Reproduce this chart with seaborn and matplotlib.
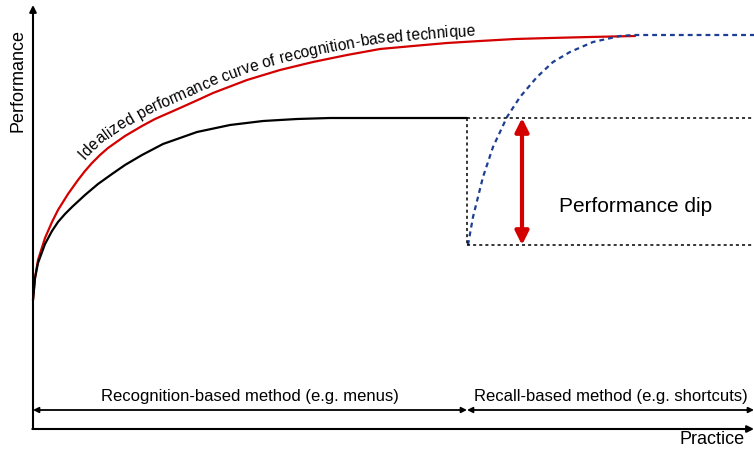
import numpy as np
import matplotlib
matplotlib.use("Agg")
import matplotlib.pyplot as plt
import seaborn as sns

# curves, in pixel coordinates (x = practice, y = distance from top)
black_x = [33, 35, 38, 45, 52, 58, 65, 72, 85, 98, 112, 125, 142, 163, 197, 230, 263, 297, 330, 467]
black_y = [300, 278, 263, 244, 231, 222, 214, 207, 195, 184, 174, 165, 155, 144, 132, 125, 121, 119, 118, 118]

red_x = [33, 35, 38, 45, 52, 58, 68, 78, 85, 92, 100, 108, 125, 142, 155, 180, 200, 213, 247, 280, 313,
         347, 380, 413, 447, 480, 515, 550, 590, 635]
red_y = [300, 278, 260, 238, 222, 210, 194, 180, 171, 163, 155, 148, 136, 126, 119, 108, 99, 93, 80, 70, 62,
         55, 49, 46, 43, 41, 39, 38, 37, 36]

blue_x = [468, 473, 483, 493, 507, 520, 537, 553, 570, 593, 620, 633, 754]
blue_y = [245, 217, 177, 147, 117, 97, 77, 62, 52, 42, 36, 35, 35]

switch_x = 467
level_old = 118
level_dip = 245
dip_arrow_x = 522

curve_label = "Idealized performance curve of recognition-based technique"
recog_label = "Recognition-based method (e.g. menus)"
recall_label = "Recall-based method (e.g. shortcuts)"

sns.set_style("white")
plt.rcParams['font.family'] = ['Liberation Sans', 'DejaVu Sans']
plt.rcParams['text.color'] = 'black'

W, H = 754, 451
fig = plt.figure(figsize=(W / 100, H / 100), dpi=100)
ax = fig.add_axes([0, 0, 1, 1])
ax.set_xlim(0, W)
ax.set_ylim(H, 0)
ax.axis("off")

RED = "#d40000"
BLUE = "#1c3f94"

sns.lineplot(x=red_x, y=red_y, ax=ax, color=RED, lw=1.6, sort=False, estimator=None)
sns.lineplot(x=black_x, y=black_y, ax=ax, color="black", lw=1.6, sort=False, estimator=None)
sns.lineplot(x=blue_x, y=blue_y, ax=ax, color=BLUE, lw=1.6, sort=False, estimator=None,
             linestyle=(0, (2.2, 1.8)))

# dotted guides
dot = dict(color="black", lw=1.1, linestyle=(0, (2, 2)))
ax.plot([switch_x, W], [level_old, level_old], **dot)
ax.plot([switch_x, switch_x], [level_old, level_dip], **dot)
ax.plot([switch_x, W], [level_dip, level_dip], **dot)

# performance dip arrow
ax.annotate("", xy=(dip_arrow_x, level_old), xytext=(dip_arrow_x, level_dip),
            arrowprops=dict(arrowstyle="<|-|>", color=RED, lw=3, mutation_scale=20,
                            shrinkA=0, shrinkB=0))
ax.text(636, 207, "Performance dip", fontsize=15, ha="center", va="center")

# axes
ax.annotate("", xy=(33, 5), xytext=(33, 429),
            arrowprops=dict(arrowstyle="-|>", color="black", lw=1.5, mutation_scale=10,
                            shrinkA=0, shrinkB=0))
ax.annotate("", xy=(754, 429), xytext=(32.3, 429),
            arrowprops=dict(arrowstyle="-|>", color="black", lw=1.5, mutation_scale=10,
                            shrinkA=0, shrinkB=0))
ax.text(18, 80, "Performance", fontsize=13, rotation=90, ha="center", va="center")
ax.text(712, 440, "Practice", fontsize=13, ha="center", va="center")

# method spans
for x0, x1, lab in [(33, switch_x, recog_label), (switch_x, 754, recall_label)]:
    ax.annotate("", xy=(x0, 410), xytext=(x1, 410),
                arrowprops=dict(arrowstyle="<|-|>", color="black", lw=1.3, mutation_scale=8,
                                shrinkA=0, shrinkB=0))
    ax.text((x0 + x1) / 2, 397, lab, fontsize=12, ha="center", va="center")

# text following the red curve
fig.canvas.draw()
renderer = fig.canvas.get_renderer()
fs = 11.2
prop = matplotlib.font_manager.FontProperties(family=['Liberation Sans', 'DejaVu Sans'], size=fs)
pts = ax.transData.transform(np.column_stack([red_x, red_y]))
seg = np.hypot(np.diff(pts[:, 0]), np.diff(pts[:, 1]))
arc = np.concatenate([[0], np.cumsum(seg)])
s_start = np.interp(90, red_x, arc)
n = len(curve_label)
for i, ch in enumerate(curve_label):
    off = renderer.get_text_width_height_descent(curve_label[:i], prop, ismath=False)[0] if i else 0
    w = renderer.get_text_width_height_descent(curve_label[:i + 1], prop, ismath=False)[0] - off
    s = s_start + off + w / 2
    px = np.interp(s, arc, pts[:, 0])
    py = np.interp(s, arc, pts[:, 1])
    dx = np.interp(s + 10, arc, pts[:, 0]) - np.interp(s - 10, arc, pts[:, 0])
    dy = np.interp(s + 10, arc, pts[:, 1]) - np.interp(s - 10, arc, pts[:, 1])
    ang = np.arctan2(dy, dx)
    nx, ny = -np.sin(ang), np.cos(ang)
    gap = 7.5 - 2.0 * i / n
    fig.text(px + nx * gap, py + ny * gap, ch, transform=None, fontproperties=prop,
             rotation=np.degrees(ang), rotation_mode="anchor", ha="center", va="baseline",
             color="black")

fig.savefig("out.png", dpi=100)
